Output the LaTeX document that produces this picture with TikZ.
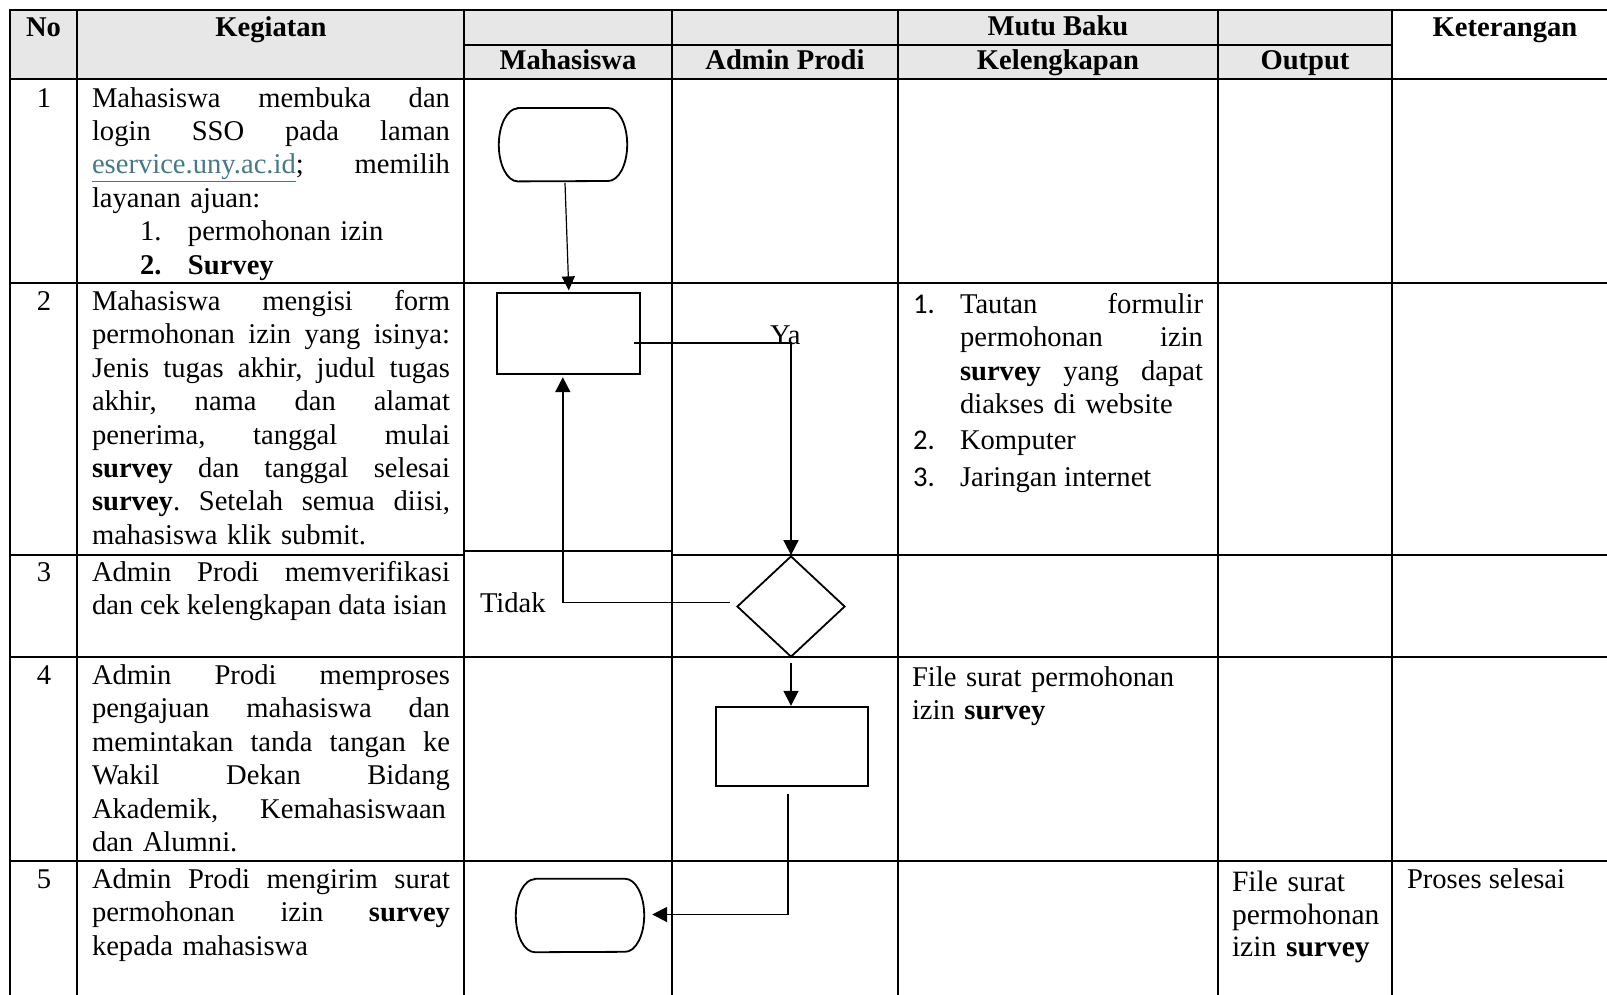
\documentclass[tikz,border=0pt]{standalone}
\usepackage{fontspec}
\setmainfont{Liberation Serif}
\newfontfamily\carlitofont{Carlito}
\usetikzlibrary{shapes.geometric,arrows.meta,calc}
\definecolor{headgray}{RGB}{231,231,231}
\definecolor{linkteal}{RGB}{70,120,134}
\newcommand{\cellfont}{\fontsize{28.6}{33.4}\selectfont}
\newcommand{\hdrfont}{\fontsize{28.6}{33.4}\selectfont\bfseries}
% justified lines: words are spread with \hfill across the cell width
\newcommand{\jline}[1]{\leavevmode\hbox to 358pt{#1}}
\newcommand{\kline}[1]{\leavevmode\hbox to 243pt{#1}}
\begin{document}
\begin{tikzpicture}[x=1pt,y=-1pt,
  grid/.style={line width=2pt,line cap=rect},
  cell/.style={inner sep=0pt,outer sep=0pt,anchor=base west,align=left,font=\cellfont},
  head/.style={inner sep=0pt,anchor=base,font=\hdrfont},
  numcell/.style={inner sep=0pt,anchor=base,font=\cellfont},
  listnum/.style={inner sep=0pt,anchor=base west,font=\cellfont\carlitofont},
  flowline/.style={line width=1.8pt},
  termbox/.style={inner sep=0pt,minimum width=128pt,minimum height=73pt},
  proc/.style={draw,line width=1.8pt,inner sep=0pt},
  decide/.style={draw,diamond,line width=1.8pt,inner sep=0pt,minimum width=108pt,minimum height=101pt},
  conn/.style={line width=1.8pt,-{Triangle[length=15pt,width=15pt]}},
]
\useasboundingbox (0,0) rectangle (1607,994);

% header shading
\fill[headgray] (10,10) rectangle (1392,79);

% table rules
\foreach \xx in {10,77,464,672,898,1218,1392}
  \draw[grid] (\xx,10) -- (\xx,1000);
\foreach \yy in {10,79,283,657,861}
  \draw[grid] (10,\yy) -- (1610,\yy);
\draw[grid] (464,44.5) -- (1392,44.5);
\draw[grid] (10,555) -- (464,555);
\draw[grid] (464,551) -- (672,551);
\draw[grid] (672,555) -- (1610,555);

% header texts
\node[head] (hNo)  at (43.5,36) {No};
\node[head] (hKeg) at (271,36) {Kegiatan};
\node[head] (hMutu) at (1058,35) {Mutu Baku};
\node[head] (hKet) at (1505,36) {Keterangan};
\node[head] (hMhs) at (568,69.5) {Mahasiswa};
\node[head] (hAdm) at (785,69.5) {Admin Prodi};
\node[head] (hKel) at (1058,69.5) {Kelengkapan};
\node[head] (hOut) at (1305,69.5) {Output};

% row numbers
\node[numcell] (no1) at (44,107) {1};
\node[numcell] (no2) at (44,310.5) {2};
\node[numcell] (no3) at (44,581) {3};
\node[numcell] (no4) at (44,684.5) {4};
\node[numcell] (no5) at (44,888.5) {5};

% activities
\node[cell,text width=362pt] (k1) at (92,107) {%
\jline{Mahasiswa\hfill membuka\hfill dan}\\
\jline{login\hfill SSO\hfill pada\hfill laman}\\
\jline{{\color{linkteal}\underline{eservice.uny.ac.id}};\hfill memilih}\\
layanan ajuan:\\
\hspace*{48pt}\makebox[48pt][l]{1.}permohonan izin\\
\hspace*{48pt}\makebox[48pt][l]{\textbf{2.}}\textbf{Survey}};

\node[cell,text width=362pt] (k2) at (92,310.5) {%
\jline{Mahasiswa\hfill mengisi\hfill form}\\
\jline{permohonan\hfill izin\hfill yang\hfill isinya:}\\
\jline{Jenis\hfill tugas\hfill akhir,\hfill judul\hfill tugas}\\
\jline{akhir,\hfill nama\hfill dan\hfill alamat}\\
\jline{penerima,\hfill tanggal\hfill mulai}\\
\jline{\textbf{survey}\hfill dan\hfill tanggal\hfill selesai}\\
\jline{\textbf{survey}.\hfill Setelah\hfill semua\hfill diisi,}\\
mahasiswa klik submit.};

\node[cell,text width=362pt] (k3) at (92,581) {%
\jline{Admin\hfill Prodi\hfill memverifikasi}\\
\leavevmode\hbox to 355pt{dan\hfill cek\hfill kelengkapan\hfill data\hfill isian}};

\node[cell,text width=362pt] (k4) at (92,684.5) {%
\jline{Admin\hfill Prodi\hfill memproses}\\
\jline{pengajuan\hfill mahasiswa\hfill dan}\\
\jline{memintakan\hfill tanda\hfill tangan\hfill ke}\\
\jline{Wakil\hfill Dekan\hfill Bidang}\\
\leavevmode\hbox to 354pt{Akademik,\hfill Kemahasiswaan}\\
dan Alumni.};

\node[cell,text width=362pt] (k5) at (92,888.5) {%
\jline{Admin\hfill Prodi\hfill mengirim\hfill surat}\\
\jline{permohonan\hfill izin\hfill \textbf{survey}}\\
kepada mahasiswa};

% completeness requirements
\node[listnum] (kn1) at (913,313.5) {1.};
\node[listnum] (kn2) at (913,449.5) {2.};
\node[listnum] (kn3) at (913,486.5) {3.};
\node[cell,text width=246pt] (kel1) at (960,313.5) {%
\kline{Tautan\hfill formulir}\\
\kline{permohonan\hfill izin}\\
\kline{\textbf{survey}\hfill yang\hfill dapat}\\
diakses di website};
\node[cell] (kel2) at (960,449.5) {Komputer};
\node[cell] (kel3) at (960,486.5) {Jaringan internet};

\node[cell,text width=295pt] (kel4) at (912,686.5) {%
File surat permohonan\\
izin \textbf{survey}};

% output and remarks
\node[cell,text width=160pt,font=\fontsize{29.5}{32.7}\selectfont] (out5) at (1232,891.5) {%
File surat\\
permohonan\\
izin \textbf{survey}};
\node[cell] (ket5) at (1407,888) {Proses selesai};

% flowchart symbols
\node[termbox] (start) at (563,144.7) {};
\node[proc,minimum width=143pt,minimum height=81pt] (box1) at (568.8,333.8) {};
\node[decide] (dec) at (791,606.5) {};
\node[proc,minimum width=152pt,minimum height=79pt] (box2) at (792.3,746.2) {};
\node[termbox] (finish) at (580,915.5) {};

% terminator outlines: straight top and bottom, elliptic ends
\foreach \t in {start,finish}
  \draw[flowline] ([xshift=19pt]\t.north west) -- ([xshift=-19pt]\t.north east)
    arc[start angle=90,end angle=-90,x radius=19pt,y radius=36.5pt]
    -- ([xshift=19pt]\t.south west)
    arc[start angle=270,end angle=90,x radius=19pt,y radius=36.5pt] -- cycle;

% branch labels
\node[cell] (ya) at (770,344) {Ya};
\node[cell] (tidak) at (480,612) {Tidak};

% connectors
\draw[line width=1.2pt,-{Triangle[length=14pt,width=13pt]}]
  ([xshift=2pt,yshift=-1.5pt]start.south) -- ([yshift=2pt]box1.north);
\draw[conn] ($(box1.east)+(-7,9)$) -| (dec.north);
\draw[conn] ([xshift=-6pt,yshift=4pt]dec.west) -| ([xshift=-6pt,yshift=-2pt]box1.south);
\draw[conn] ([yshift=-5pt]dec.south) -- (dec.south |- box2.north);
\draw[conn] ([xshift=-4pt,yshift=-7pt]box2.south) |- ([xshift=8pt,yshift=1pt]finish.east);
\end{tikzpicture}
\end{document}
